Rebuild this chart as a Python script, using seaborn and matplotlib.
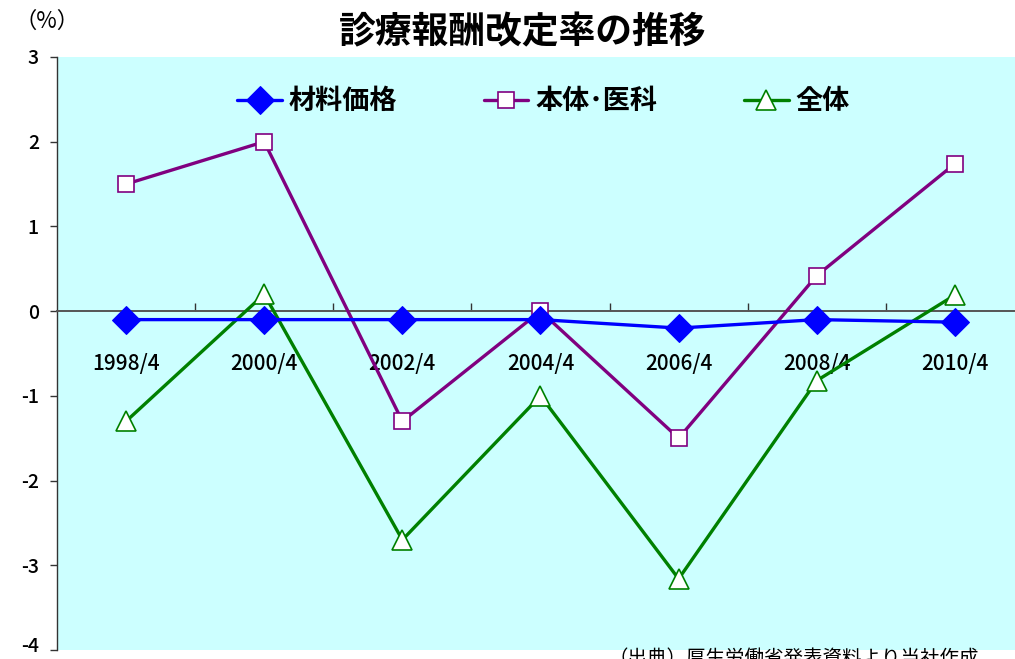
import matplotlib
matplotlib.use("Agg")
import matplotlib.pyplot as plt
import matplotlib.transforms as mtransforms
import seaborn as sns
import pandas as pd
from matplotlib.ticker import FixedLocator

categories = ["1998/4", "2000/4", "2002/4", "2004/4", "2006/4", "2008/4", "2010/4"]
zairyo = [-0.1, -0.1, -0.1, -0.1, -0.2, -0.1, -0.13]
hontai = [1.5, 2.0, -1.3, 0.0, -1.5, 0.42, 1.74]
zentai = [-1.3, 0.2, -2.7, -1.0, -3.16, -0.82, 0.19]
series_names = ["材料価格", "本体･医科", "全体"]
yticks = [-4, -3, -2, -1, 0, 1, 2, 3]

sns.set_theme(style="white")
plt.rcParams['font.family'] = ['Noto Sans CJK JP', 'DejaVu Sans']
plt.rcParams['text.color'] = 'black'
plt.rcParams['xtick.color'] = 'black'
plt.rcParams['ytick.color'] = 'black'
plt.rcParams['xtick.labelcolor'] = 'black'
plt.rcParams['ytick.labelcolor'] = 'black'

fig = plt.figure(figsize=(10.15, 6.59), dpi=100)
ax = fig.add_axes([57/1015, 9/659, 967/1015, 593/659])
ax.set_facecolor("#CCFFFF")

idx = list(range(len(categories)))
df = pd.DataFrame({"x": idx, "zairyo": zairyo, "hontai": hontai, "zentai": zentai})

sns.lineplot(data=df, x="x", y="zairyo", ax=ax, color="#0000FF", lw=2.4,
             marker="D", markersize=14, markerfacecolor="#0000FF",
             markeredgecolor="#0000FF", label=series_names[0], zorder=4)
sns.lineplot(data=df, x="x", y="hontai", ax=ax, color="#800080", lw=2.4,
             marker="s", markersize=12, markerfacecolor="white",
             markeredgecolor="#800080", markeredgewidth=1.2,
             label=series_names[1], zorder=3)
sns.lineplot(data=df, x="x", y="zentai", ax=ax, color="#008000", lw=2.4,
             marker="^", markersize=15, markerfacecolor="white",
             markeredgecolor="#008000", markeredgewidth=1.2,
             label=series_names[2], zorder=3)

ax.set_xlim(-0.5, len(categories) - 0.5)
ax.set_ylim(-4, 3)
ax.set_xlabel("")
ax.set_ylabel("")

for s in ["top", "right"]:
    ax.spines[s].set_visible(False)
ax.spines["left"].set_color("#333333")
ax.spines["left"].set_linewidth(1.0)
ax.spines["bottom"].set_position(("data", 0))
ax.spines["bottom"].set_color("#555555")
ax.spines["bottom"].set_linewidth(1.4)

ax.yaxis.set_major_locator(FixedLocator(yticks))
ax.set_yticklabels([str(v) for v in yticks], fontsize=14, fontweight="medium")
ax.tick_params(axis="y", direction="out", length=5, width=1, color="#333333",
               left=True, pad=8)

# category boundary ticks (major, unlabeled) and labels at centers (minor)
ax.xaxis.set_major_locator(FixedLocator([i + 0.5 for i in idx[:-1]]))
ax.xaxis.set_minor_locator(FixedLocator(idx))
ax.set_xticklabels([], minor=False)
ax.set_xticklabels(categories, minor=True, fontsize=15, fontweight="medium")
ax.tick_params(axis="x", which="major", direction="in", length=6, width=1,
               color="#333333", bottom=True)
ax.tick_params(axis="x", which="minor", length=0, pad=30, bottom=True)
ax.grid(False)

# nudge the lowest y label up slightly so it stays inside the image
lowest = ax.yaxis.get_major_ticks()[0].label1
lowest.set_transform(lowest.get_transform() +
                     mtransforms.ScaledTranslation(0, 4/72, fig.dpi_scale_trans))

leg = ax.legend(loc="upper center", bbox_to_anchor=(0.503, 0.99), ncol=3,
                frameon=False, fontsize=19.5, handlelength=1.65,
                columnspacing=3.2, handletextpad=0.25)
for t in leg.get_texts():
    t.set_fontweight("bold")
    t.set_color("black")

fig.text(0.515, 1 - 33/659, "診療報酬改定率の推移", ha="center", va="center",
         fontsize=26.5, fontweight="bold")
fig.text(0.046, 1 - 21/659, "（%）", ha="center", va="center", fontsize=16)
fig.text(0.600, 1 - 648/659, "（出典）厚生労働省発表資料より当社作成",
         ha="left", va="top", fontsize=14)

fig.savefig("out.png", dpi=100)
